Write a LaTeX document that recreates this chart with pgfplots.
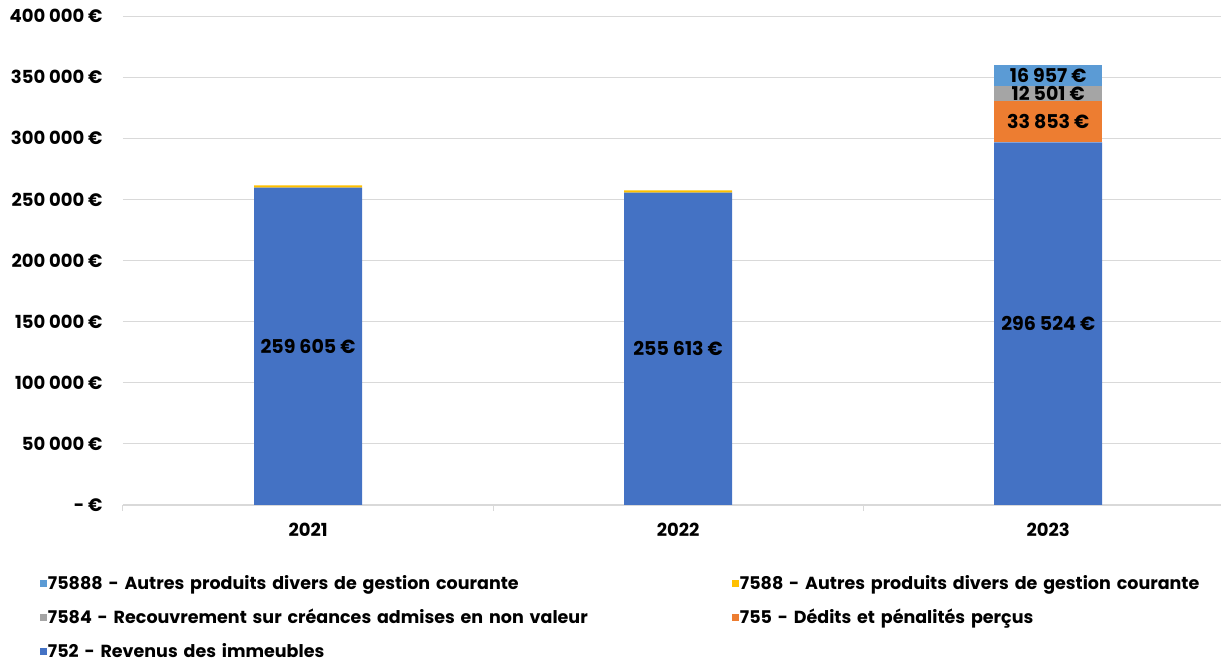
\documentclass[border=0pt]{standalone}
\usepackage{pgfplots}
\pgfplotsset{compat=1.18}
\usepackage{fontspec}
\setmainfont{Poppins}
\definecolor{c752}{HTML}{4472C4}
\definecolor{c755}{HTML}{ED7D31}
\definecolor{c7584}{HTML}{A5A5A5}
\definecolor{c7588}{HTML}{FFC000}
\definecolor{c75888}{HTML}{5B9BD5}
\definecolor{gridc}{HTML}{D9D9D9}
\begin{document}
\begin{tikzpicture}
\pgfplotsset{common/.style={
  width=1098pt, height=489pt, scale only axis,
  xmin=-0.5, xmax=2.467, ymin=0, ymax=400000,
  scaled y ticks=false,
}}
\begin{axis}[common, name=ax,
  ybar stacked, bar width=108pt,
  axis x line*=bottom, axis y line*=left,
  y axis line style={draw=none},
  x axis line style={gridc, line width=1pt},
  ymajorgrids, grid style={gridc, line width=0.8pt},
  ytick={0,50000,...,400000},
  yticklabels={- €,50 000 €,100 000 €,150 000 €,200 000 €,250 000 €,300 000 €,350 000 €,400 000 €},
  yticklabel style={font=\fontsize{18}{20}\selectfont\bfseries, xshift=-17pt},
  xtick={0,1,2}, xticklabels={2021,2022,2023},
  xticklabel style={font=\fontsize{18}{20}\selectfont\bfseries, yshift=-15pt},
  major tick length=0pt,
  extra x ticks={-0.5,0.5,1.5}, extra x tick labels={},
  extra x tick style={major tick length=6pt, tick align=outside, tick style={draw=gridc, line width=1pt}, grid=none},
  reverse legend, legend columns=2,
  legend style={draw=none, at={(-0.0785,-0.138)}, anchor=north west,
    font=\fontsize{17.5}{19}\selectfont\bfseries,
    nodes={text width=683pt, align=left, inner sep=1pt, xshift=9pt},
    row sep=16pt, column sep=0pt},
  legend image code/.code={\fill[#1] (0pt,-3.5pt) rectangle (7pt,3.5pt);},
]
\addplot[fill=c752, draw=none] coordinates {(0,259605) (1,255613) (2,296524)};
\addlegendentry{752 - Revenus des immeubles}
\addplot[fill=c755, draw=none] coordinates {(0,0) (1,0) (2,33853)};
\addlegendentry{755 - Dédits et pénalités perçus}
\addplot[fill=c7584, draw=none] coordinates {(0,0) (1,0) (2,12501)};
\addlegendentry{7584 - Recouvrement sur créances admises en non valeur}
\addplot[fill=c7588, draw=none] coordinates {(0,1900) (1,1800) (2,0)};
\addlegendentry{7588 - Autres produits divers de gestion courante}
\addplot[fill=c75888, draw=none] coordinates {(0,0) (1,0) (2,16957)};
\addlegendentry{75888 - Autres produits divers de gestion courante}
\end{axis}
\begin{axis}[common, hide axis]
\addplot[draw=none, mark=none, nodes near coords, point meta=explicit symbolic,
  every node near coord/.append style={anchor=center, font=\fontsize{19}{21}\selectfont\bfseries, inner sep=0pt}]
  table[meta=label, col sep=comma] {
x,y,label
0,129802.5,259 605 €
1,127806.5,255 613 €
2,148262,296 524 €
2,313450.5,33 853 €
2,336627.5,12 501 €
2,351356.5,16 957 €
};
\end{axis}
\pgfresetboundingbox
\path[use as bounding box] ([shift={(-123pt,-157pt)}]ax.south west) rectangle ([shift={(0pt,16pt)}]ax.north east);
\end{tikzpicture}
\end{document}
